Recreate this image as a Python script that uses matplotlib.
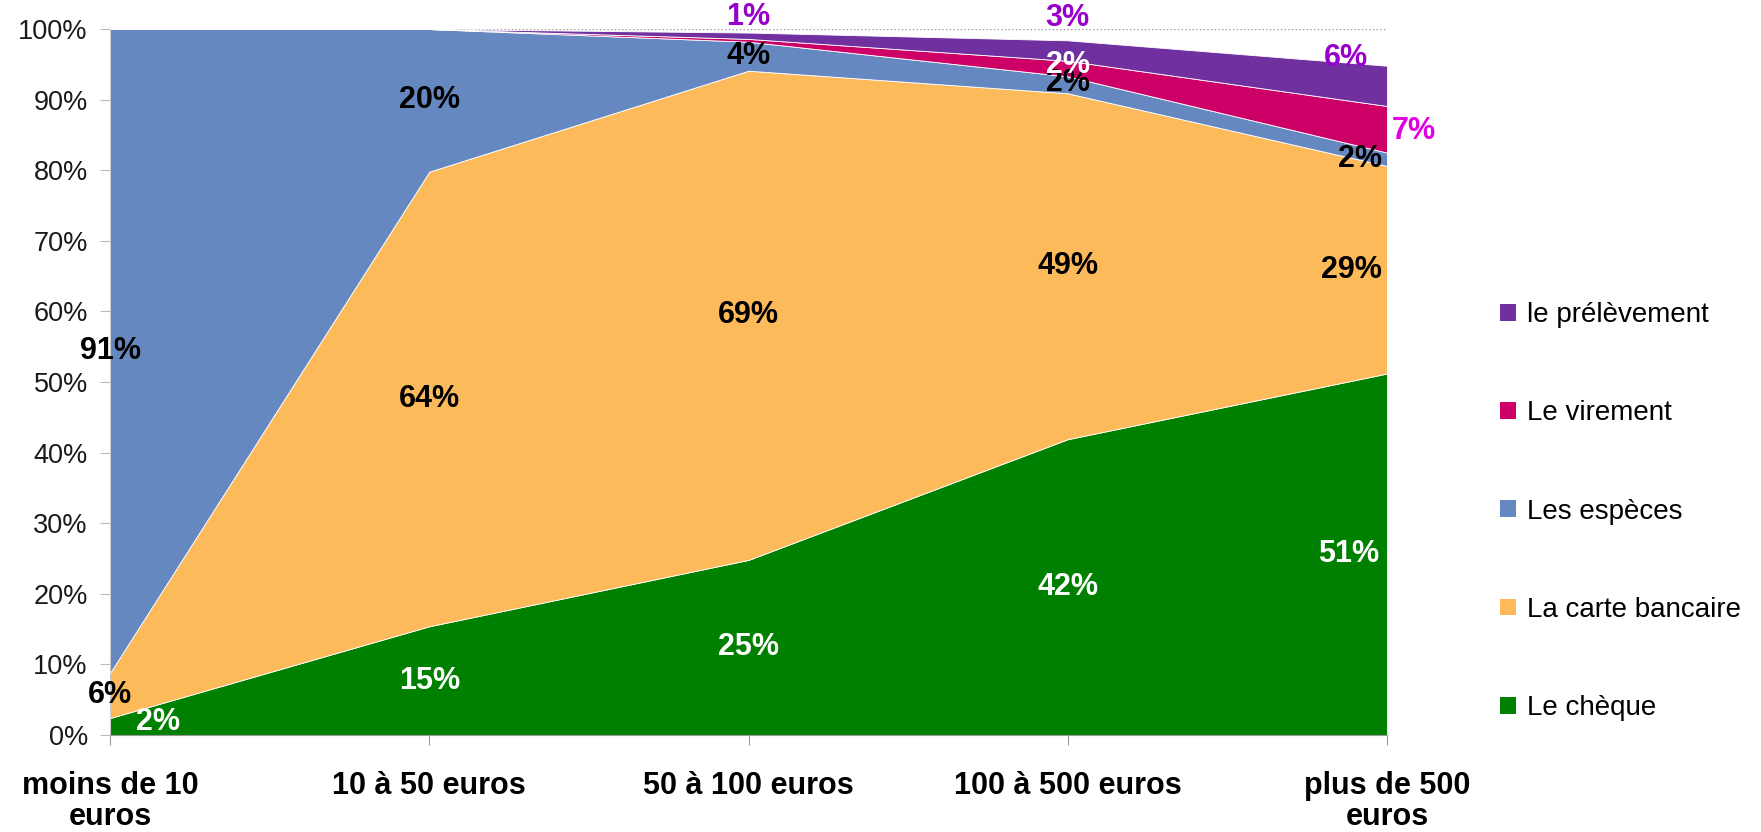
import numpy as np
import matplotlib.pyplot as plt
from matplotlib.patches import Patch
from matplotlib.ticker import PercentFormatter

plt.rcParams['font.family'] = ['Liberation Sans', 'DejaVu Sans']

# données (en %) par tranche de montant
categories = ['moins de 10\neuros', '10 à 50 euros', '50 à 100 euros',
              '100 à 500 euros', 'plus de 500\neuros']
cheque = [2.4, 15.4, 24.8, 41.9, 51.2]
carte = [6.4, 64.4, 69.3, 49.0, 29.4]
especes = [91.2, 20.2, 4.1, 2.4, 1.9]
virement = [0, 0, 0.4, 2.2, 6.6]
prelevement = [0, 0, 0.9, 2.9, 5.7]

noms = ['Le chèque', 'La carte bancaire', 'Les espèces', 'Le virement', 'le prélèvement']
couleurs = ['#008000', '#FDBA5A', '#6688C0', '#CC0066', '#7030A0']
couleurs_txt = ['white', 'black', 'black', 'white', '#9900CC']

series = [cheque, carte, especes, virement, prelevement]

# décalages des étiquettes (série, point) -> (dx, dy)
decalages = {
    (0, 0): (0.15, 0.6),
    (4, 2): (0, 2.7),
    (4, 3): (0, 4.6),
    (3, 3): (0, 0.5),
    (2, 3): (0, 0.3),
    (0, 4): (-0.12, 0),
    (1, 4): (-0.11, 0),
    (2, 4): (-0.085, 0),
    (3, 4): (0.085, -0.3),
    (4, 4): (-0.13, 3.9),
}
couleur_speciale = {(3, 4): '#E000E0'}

fig = plt.figure(figsize=(17.61, 8.32), dpi=100)
ax = fig.add_axes([0.0625, 0.1166, 0.7251, 0.8485])

x = np.arange(len(categories))
ax.stackplot(x, *series, colors=couleurs, edgecolor='white', linewidth=0.6, zorder=2)

ax.set_xlim(0, len(categories) - 1)
ax.set_ylim(0, 100)
ax.set_yticks(np.arange(0, 101, 10))
ax.yaxis.set_major_formatter(PercentFormatter(decimals=0))
ax.grid(True, axis='y', linestyle=':', color='#999999', linewidth=1)
ax.set_axisbelow(True)

ax.set_xticks(x)
ax.set_xticklabels(categories, fontsize=22, fontweight='bold', linespacing=1.05)
ax.tick_params(axis='x', length=7, color='#999999', pad=19)
ax.tick_params(axis='y', length=7, color='#BBBBBB', pad=9, labelsize=19.5, labelcolor='#1a1a1a')

for s in ['top', 'right']:
    ax.spines[s].set_visible(False)
ax.spines['bottom'].set_color('#999999')
ax.spines['left'].set_color('#CCCCCC')

# étiquettes de données
cumul = np.zeros(len(categories))
for i, vals in enumerate(series):
    vals = np.array(vals, dtype=float)
    for j, v in enumerate(vals):
        if v < 0.5:
            continue
        dx, dy = decalages.get((i, j), (0, 0))
        ymid = cumul[j] + v / 2 + dy
        col = couleur_speciale.get((i, j), couleurs_txt[i])
        ax.text(j + dx, ymid, f'{round(v):.0f}%', ha='center', va='center',
                fontsize=22, fontweight='bold', color=col, zorder=5,
                clip_on=(i == 0 and j == 0))
    cumul += vals

handles = [Patch(facecolor=c, edgecolor='none') for c in couleurs][::-1]
fig.legend(handles, noms[::-1], loc='center left', bbox_to_anchor=(0.852, 0.385),
           frameon=False, fontsize=20, handlelength=0.55, handleheight=0.55,
           handletextpad=0.4, labelspacing=2.6, borderpad=0, borderaxespad=0)

fig.savefig('out.png', dpi=100)
